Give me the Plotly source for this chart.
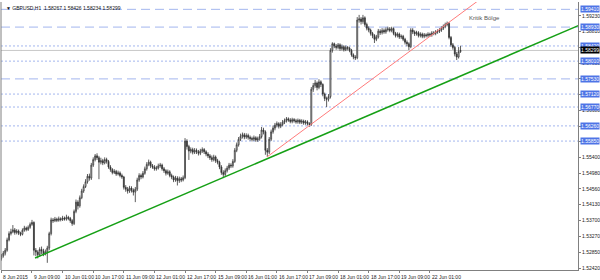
import plotly.graph_objects as go

# ---- data (GBPUSD, H1) ----
closes = [
 1.5275,1.5282,1.5290,1.5318,1.5335,1.5340,1.5345,1.5338,1.5342,1.5336,
 1.5333,1.5344,1.5350,1.5346,1.5352,1.5360,1.5365,1.5290,1.5285,1.5278,
 1.5292,1.5288,1.5280,1.5285,1.5296,1.5335,1.5372,1.5370,1.5374,1.5371,
 1.5375,1.5373,1.5377,1.5374,1.5379,1.5376,1.5370,1.5362,1.5395,1.5420,
 1.5410,1.5432,1.5450,1.5462,1.5475,1.5490,1.5485,1.5520,1.5535,1.5545,
 1.5540,1.5528,1.5532,1.5526,1.5535,1.5530,1.5515,1.5508,1.5500,1.5503,
 1.5496,1.5499,1.5492,1.5488,1.5460,1.5455,1.5450,1.5458,1.5452,1.5447,
 1.5455,1.5480,1.5492,1.5488,1.5498,1.5510,1.5522,1.5528,1.5518,1.5515,
 1.5510,1.5512,1.5518,1.5520,1.5510,1.5505,1.5498,1.5502,1.5492,1.5488,
 1.5480,1.5485,1.5478,1.5483,1.5480,1.5486,1.5585,1.5570,1.5558,1.5562,
 1.5555,1.5560,1.5556,1.5552,1.5558,1.5562,1.5556,1.5550,1.5545,1.5540,
 1.5535,1.5542,1.5532,1.5528,1.5515,1.5500,1.5495,1.5505,1.5512,1.5520,
 1.5518,1.5530,1.5560,1.5575,1.5590,1.5598,1.5602,1.5596,1.5600,1.5595,
 1.5592,1.5590,1.5594,1.5588,1.5591,1.5597,1.5615,1.5610,1.5560,1.5555,
 1.5590,1.5610,1.5620,1.5628,1.5632,1.5625,1.5630,1.5636,1.5640,1.5645,
 1.5642,1.5638,1.5643,1.5640,1.5637,1.5641,1.5636,1.5639,1.5634,1.5637,
 1.5632,1.5630,1.5725,1.5735,1.5742,1.5730,1.5745,1.5738,1.5712,1.5700,
 1.5698,1.5705,1.5830,1.5848,1.5842,1.5838,1.5845,1.5835,1.5840,1.5832,
 1.5838,1.5836,1.5830,1.5818,1.5812,1.5810,1.5912,1.5915,1.5908,1.5918,
 1.5900,1.5890,1.5885,1.5876,1.5870,1.5860,1.5866,1.5882,1.5878,1.5884,
 1.5880,1.5886,1.5888,1.5884,1.5889,1.5876,1.5870,1.5874,1.5866,1.5868,
 1.5860,1.5852,1.5848,1.5840,1.5885,1.5880,1.5875,1.5878,1.5870,1.5874,
 1.5868,1.5872,1.5870,1.5874,1.5872,1.5877,1.5876,1.5880,1.5882,1.5885,
 1.5890,1.5895,1.5900,1.5903,1.5865,1.5845,1.5838,1.5820,1.5812,1.58267,
 1.58299]

highs = [
 1.5280,1.5288,1.5296,1.5324,1.5341,1.5348,1.5358,1.5350,1.5347,1.5346,
 1.5340,1.5349,1.5356,1.5354,1.5357,1.5365,1.5372,1.5368,1.5296,1.5290,
 1.5298,1.5300,1.5294,1.5292,1.5302,1.5340,1.5378,1.5377,1.5380,1.5378,
 1.5381,1.5379,1.5383,1.5381,1.5386,1.5383,1.5380,1.5374,1.5400,1.5427,
 1.5425,1.5438,1.5456,1.5468,1.5482,1.5496,1.5497,1.5526,1.5541,1.5550,
 1.5552,1.5545,1.5540,1.5537,1.5541,1.5540,1.5534,1.5520,1.5512,1.5509,
 1.5507,1.5505,1.5503,1.5497,1.5491,1.5466,1.5461,1.5464,1.5463,1.5457,
 1.5461,1.5486,1.5498,1.5497,1.5504,1.5516,1.5528,1.5535,1.5532,1.5523,
 1.5520,1.5518,1.5524,1.5526,1.5524,1.5515,1.5509,1.5508,1.5506,1.5497,
 1.5492,1.5491,1.5490,1.5489,1.5488,1.5492,1.5593,1.5590,1.5575,1.5568,
 1.5567,1.5566,1.5565,1.5561,1.5564,1.5568,1.5566,1.5560,1.5555,1.5550,
 1.5546,1.5548,1.5546,1.5537,1.5532,1.5520,1.5506,1.5511,1.5518,1.5526,
 1.5525,1.5536,1.5566,1.5581,1.5596,1.5605,1.5608,1.5607,1.5606,1.5605,
 1.5600,1.5597,1.5600,1.5598,1.5597,1.5604,1.5623,1.5621,1.5614,1.5566,
 1.5596,1.5616,1.5627,1.5634,1.5638,1.5636,1.5636,1.5642,1.5646,1.5650,
 1.5649,1.5647,1.5648,1.5647,1.5645,1.5646,1.5645,1.5644,1.5643,1.5642,
 1.5641,1.5636,1.5731,1.5742,1.5750,1.5746,1.5752,1.5749,1.5741,1.5716,
 1.5705,1.5712,1.5836,1.5852,1.5851,1.5847,1.5850,1.5849,1.5846,1.5844,
 1.5843,1.5842,1.5840,1.5834,1.5822,1.5817,1.5920,1.5926,1.5920,1.5926,
 1.5922,1.5905,1.5895,1.5889,1.5880,1.5874,1.5872,1.5888,1.5887,1.5890,
 1.5889,1.5892,1.5894,1.5893,1.5894,1.5892,1.5880,1.5879,1.5878,1.5873,
 1.5872,1.5864,1.5857,1.5852,1.5890,1.5890,1.5884,1.5883,1.5882,1.5879,
 1.5878,1.5877,1.5876,1.5879,1.5878,1.5882,1.5882,1.5885,1.5887,1.5890,
 1.5895,1.5900,1.5905,1.5908,1.5906,1.5869,1.5850,1.5842,1.5826,1.5839,
 1.58426]

lows = [
 1.5262,1.5270,1.5276,1.5286,1.5314,1.5330,1.5336,1.5332,1.5333,1.5331,
 1.5328,1.5330,1.5340,1.5341,1.5342,1.5348,1.5356,1.5276,1.5274,1.5268,
 1.5272,1.5280,1.5274,1.5276,1.5256,1.5290,1.5330,1.5364,1.5366,1.5366,
 1.5367,1.5368,1.5369,1.5370,1.5370,1.5371,1.5364,1.5356,1.5358,1.5390,
 1.5400,1.5405,1.5428,1.5445,1.5458,1.5470,1.5478,1.5480,1.5515,1.5530,
 1.5534,1.5482,1.5522,1.5520,1.5522,1.5524,1.5510,1.5502,1.5495,1.5496,
 1.5491,1.5492,1.5487,1.5483,1.5454,1.5448,1.5443,1.5445,1.5446,1.5438,
 1.5420,1.5450,1.5475,1.5482,1.5484,1.5494,1.5505,1.5517,1.5512,1.5510,
 1.5505,1.5505,1.5508,1.5513,1.5505,1.5499,1.5492,1.5494,1.5487,1.5482,
 1.5474,1.5475,1.5465,1.5472,1.5474,1.5476,1.5482,1.5562,1.5534,1.5552,
 1.5549,1.5550,1.5550,1.5546,1.5547,1.5553,1.5550,1.5544,1.5539,1.5534,
 1.5529,1.5530,1.5526,1.5522,1.5509,1.5494,1.5485,1.5490,1.5500,1.5507,
 1.5512,1.5513,1.5526,1.5555,1.5570,1.5585,1.5592,1.5590,1.5591,1.5589,
 1.5586,1.5584,1.5585,1.5583,1.5583,1.5586,1.5592,1.5603,1.5548,1.5542,
 1.5550,1.5585,1.5605,1.5614,1.5622,1.5619,1.5620,1.5625,1.5631,1.5635,
 1.5637,1.5633,1.5633,1.5635,1.5632,1.5632,1.5631,1.5631,1.5629,1.5629,
 1.5627,1.5624,1.5626,1.5718,1.5729,1.5722,1.5725,1.5731,1.5706,1.5693,
 1.5677,1.5692,1.5700,1.5824,1.5836,1.5832,1.5833,1.5829,1.5830,1.5827,
 1.5828,1.5830,1.5825,1.5813,1.5806,1.5804,1.5806,1.5905,1.5900,1.5902,
 1.5894,1.5884,1.5879,1.5870,1.5863,1.5850,1.5855,1.5862,1.5872,1.5873,
 1.5875,1.5875,1.5881,1.5879,1.5879,1.5871,1.5865,1.5865,1.5861,1.5861,
 1.5855,1.5846,1.5841,1.5831,1.5836,1.5874,1.5869,1.5870,1.5865,1.5865,
 1.5863,1.5863,1.5865,1.5865,1.5867,1.5867,1.5871,1.5871,1.5875,1.5877,
 1.5880,1.5885,1.5890,1.5895,1.5860,1.5840,1.5832,1.5814,1.5804,1.5808,
 1.58234]

first_open = 1.5268
opens = [first_open] + closes[:-1]
bar_index = list(range(len(closes)))

x_tick_bars = [0, 16, 32, 48, 64, 80, 96, 112, 128, 144, 160, 176, 192, 208, 224]
x_tick_labels = ["8 Jun 2015", "9 Jun 09:00", "10 Jun 01:00", "10 Jun 17:00",
                 "11 Jun 09:00", "12 Jun 01:00", "12 Jun 17:00", "15 Jun 09:00",
                 "16 Jun 01:00", "16 Jun 17:00", "17 Jun 09:00", "18 Jun 01:00",
                 "18 Jun 17:00", "19 Jun 09:00", "22 Jun 01:00"]

y_ticks = [1.59230, 1.58810, 1.58380, 1.57950, 1.57530, 1.57100, 1.56680, 1.56250,
           1.55830, 1.55400, 1.54980, 1.54560, 1.54130, 1.53700, 1.53270, 1.52850, 1.52420]
# tick labels hidden underneath the price-level boxes (as in the reference)
y_ticks_covered = [1.58380, 1.57530, 1.57100, 1.56250, 1.55830]

levels = [1.59410, 1.58930, 1.58420, 1.58010, 1.57530, 1.57120, 1.56770, 1.56260, 1.55850]
level_styles = ["dash", "dash", "dot", "dot", "dash", "dot", "dot", "dot", "dot"]

current_price = 1.58299
header_text = "▼ GBPUSD,H1  1.58267 1.58426 1.58234 1.58299"

green_trend_x = [17.6, 302.0]
green_trend_y = [1.52690, 1.58980]
red_trend_x = [138.8, 249.7]
red_trend_y = [1.55420, 1.59662]

note_text = "Kritik Bölge"
note_pos = (243.4, 1.59175)

X_RANGE = [-0.2, 301.4]
Y_RANGE = [1.52366, 1.59608]

FONT = "Liberation Sans"

fig = go.Figure()

fig.add_trace(go.Candlestick(
    x=bar_index, open=opens, high=highs, low=lows, close=closes,
    increasing=dict(line=dict(color="#333333", width=0.8), fillcolor="#ffffff"),
    decreasing=dict(line=dict(color="#333333", width=0.8), fillcolor="#333333"),
    whiskerwidth=0, showlegend=False, hoverinfo="skip"))

fig.add_trace(go.Scatter(x=green_trend_x, y=green_trend_y, mode="lines",
                         line=dict(color="#16a016", width=1.5), showlegend=False,
                         hoverinfo="skip"))
fig.add_trace(go.Scatter(x=red_trend_x, y=red_trend_y, mode="lines",
                         line=dict(color="#ff7b7b", width=1), showlegend=False,
                         hoverinfo="skip"))

shapes = []
for lv, st in zip(levels, level_styles):
    shapes.append(dict(type="line", xref="paper", x0=0, x1=1, yref="y", y0=lv, y1=lv,
                       line=dict(color="#a3b6ee", width=1,
                                 dash="9px,5px" if st == "dash" else "2px,2px"),
                       layer="below"))
shapes.append(dict(type="line", xref="paper", x0=0, x1=1, yref="y",
                   y0=current_price, y1=current_price,
                   line=dict(color="#c8c8c8", width=1), layer="below"))
shapes.append(dict(type="line", xref="paper", x0=0, x1=0, yref="paper", y0=0, y1=1,
                   line=dict(color="#808080", width=1)))

annotations = []
for tb, tl in zip(x_tick_bars, x_tick_labels):
    annotations.append(dict(x=tb, xref="x", y=0, yref="paper", yanchor="top",
                            xanchor="left", xshift=0, yshift=-2, text=tl, showarrow=False,
                            font=dict(family=FONT, size=5, color="#222")))
for lv in levels:
    annotations.append(dict(x=1, xref="paper", y=lv, yref="y", xanchor="left",
                            xshift=2, text=f"{lv:.5f}", showarrow=False,
                            bgcolor="#4e74e6", borderpad=0,
                            font=dict(family=FONT, size=5, color="#ffffff")))
annotations.append(dict(x=1, xref="paper", y=current_price, yref="y", xanchor="left",
                        xshift=2, text=f"{current_price:.5f}", showarrow=False,
                        bgcolor="#000000", borderpad=0,
                        font=dict(family=FONT, size=5, color="#ffffff")))
annotations.append(dict(x=0, xref="paper", y=1, yref="paper", xanchor="left",
                        yanchor="top", xshift=3, yshift=-1, text=header_text,
                        showarrow=False, font=dict(family=FONT, size=5, color="#111")))
annotations.append(dict(x=note_pos[0], xref="x", y=note_pos[1], yref="y",
                        xanchor="left", text=note_text, showarrow=False,
                        font=dict(family=FONT, size=6, color="#555")))

fig.update_layout(
    width=600, height=280,
    margin=dict(l=1, r=22, t=2, b=10),
    paper_bgcolor="#ffffff", plot_bgcolor="#ffffff",
    shapes=shapes, annotations=annotations,
    xaxis=dict(range=X_RANGE, rangeslider=dict(visible=False), showgrid=False,
               zeroline=False, showline=True, linecolor="#808080", linewidth=1,
               tickvals=x_tick_bars, ticktext=[""] * len(x_tick_bars),
               ticks="outside", ticklen=2, tickcolor="#808080", fixedrange=True),
    yaxis=dict(range=Y_RANGE, side="right", showgrid=False, zeroline=False,
               showline=True, linecolor="#808080", linewidth=1,
               tickvals=y_ticks,
               ticktext=["" if v in y_ticks_covered else f"{v:.5f}" for v in y_ticks],
               ticks="outside", ticklen=2, tickcolor="#808080",
               tickfont=dict(family=FONT, size=5, color="#222"), fixedrange=True),
    showlegend=False,
)

fig.write_html("out.html")
